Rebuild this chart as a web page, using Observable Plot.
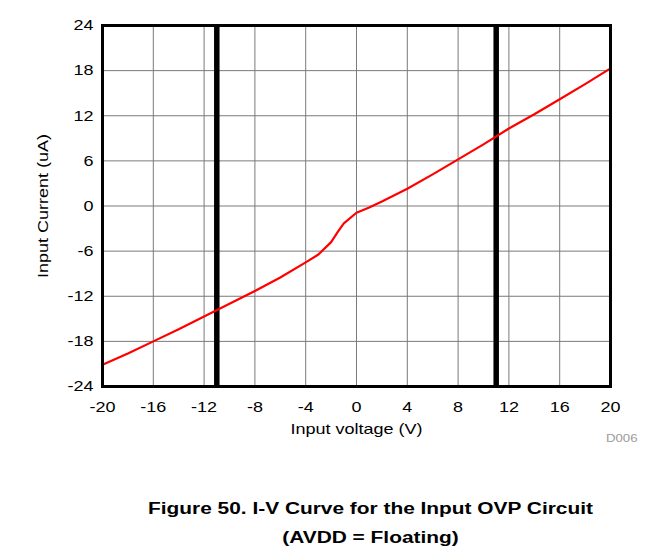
<!DOCTYPE html>
<html>
<head>
<meta charset="utf-8">
<script src="https://cdn.jsdelivr.net/npm/d3@7"></script>
<script src="https://cdn.jsdelivr.net/npm/@observablehq/plot@0.6"></script>
<style>
  html, body { margin: 0; padding: 0; background: #fff; }
  body { width: 671px; height: 560px; position: relative; font-family: "Liberation Sans", Arial, sans-serif; overflow: hidden; }
  #topline { position: absolute; left: 0; top: 5px; width: 671px; height: 2px; background: #000; }
  #chart { position: absolute; left: 0; top: 0; }
  #title { position: absolute; left: 0; top: 494px; width: 741px; text-align: center; font-weight: bold; font-size: 17.4px; line-height: 29px; color: #000; transform: scaleX(1.2); transform-origin: 370.5px 0; }
</style>
</head>
<body>
<div id="topline"></div>
<div id="chart"></div>
<div id="title">Figure 50. I-V Curve for the Input OVP Circuit<br>(AVDD = Floating)</div>
<script>
const voltage = [-20, -18, -16, -14, -12, -10, -8, -6, -4, -3, -2, -1.5, -1, 0, 1, 2, 4, 6, 8, 10, 12, 14, 16, 18, 20];
const current = [-21.1, -19.6, -18.0, -16.4, -14.7, -13.0, -11.3, -9.5, -7.5, -6.45, -4.8, -3.5, -2.3, -0.9, -0.2, 0.6, 2.3, 4.2, 6.2, 8.2, 10.3, 12.2, 14.2, 16.2, 18.3];
const xTicks = [-20, -16, -12, -8, -4, 0, 4, 8, 12, 16, 20];
const yTicks = [-24, -18, -12, -6, 0, 6, 12, 18, 24];
const ovpLimits = [-11, 11];
const xLabel = "Input voltage (V)";
const yLabel = "Input Current (uA)";
const code = "D006";

const data = voltage.map((v, i) => ({v, c: current[i]}));
const fmt = d => String(d);

const chart = Plot.plot({
  width: 671,
  height: 470,
  marginLeft: 102,
  marginRight: 61,
  marginTop: 25,
  marginBottom: 84,
  style: {fontFamily: "'Liberation Sans', Arial, sans-serif", fontSize: "15px", color: "#000", background: "#fff"},
  x: {domain: [-20, 20]},
  y: {domain: [-24, 24]},
  marks: [
    Plot.gridX(xTicks, {stroke: "#7a7a7a", strokeOpacity: 1, strokeWidth: 1}),
    Plot.gridY(yTicks, {stroke: "#7a7a7a", strokeOpacity: 1, strokeWidth: 1}),
    Plot.ruleX(ovpLimits, {stroke: "#000", strokeWidth: 5.5}),
    Plot.line(data, {x: "v", y: "c", stroke: "#ff0000", strokeWidth: 2.2}),
    Plot.frame({stroke: "#000", strokeWidth: 3}),
    Plot.axisX(xTicks, {tickSize: 0, tickPadding: 15, fontSize: 15, label: null, tickFormat: fmt}),
    Plot.axisY(yTicks, {tickSize: 0, tickPadding: 9, fontSize: 15, label: null, tickFormat: fmt}),
    Plot.text([xLabel], {frameAnchor: "bottom", dy: 43, fontSize: 15, textAnchor: "middle", lineAnchor: "middle"}),
    Plot.text([yLabel], {frameAnchor: "left", dx: -59, rotate: -90, fontSize: 15, textAnchor: "middle", lineAnchor: "middle"}),
    Plot.text([code], {frameAnchor: "bottom-right", dx: 27, dy: 52, textAnchor: "end", lineAnchor: "middle", fontSize: 11, fill: "#9a9a9a"})
  ]
});
document.getElementById("chart").appendChild(chart);
// the reference's lettering is about 1.2x wider than Arial at the same height
chart.querySelectorAll("text").forEach(t => {
  const len = t.getComputedTextLength();
  if (len > 0) {
    t.setAttribute("textLength", (len * 1.2).toFixed(2));
    t.setAttribute("lengthAdjust", "spacingAndGlyphs");
  }
});
</script>
</body>
</html>
